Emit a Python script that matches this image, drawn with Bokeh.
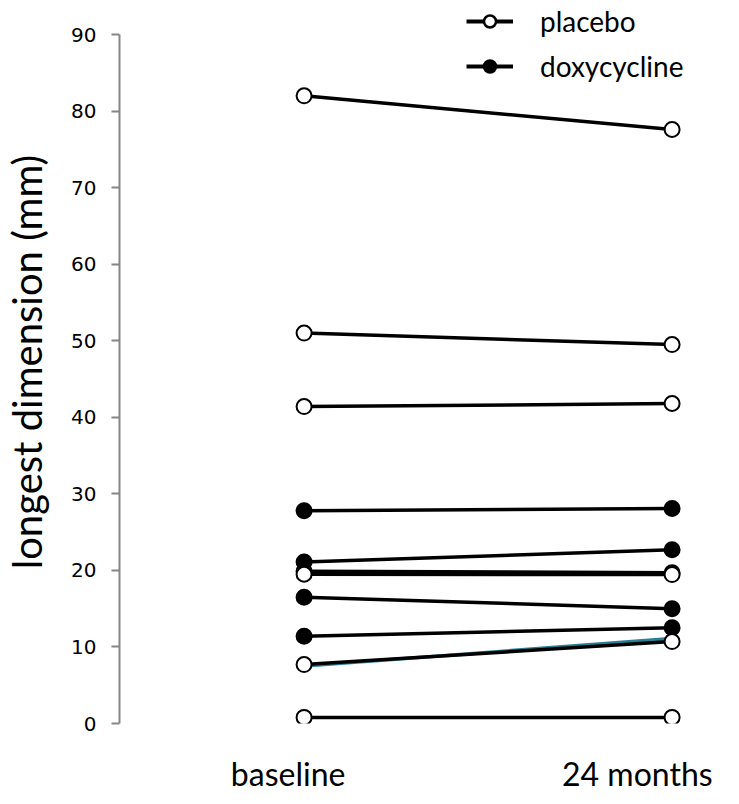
from bokeh.plotting import figure
from bokeh.models import Range1d, FixedTicker, Legend, LegendItem, CustomJSTickFormatter
from bokeh.embed import file_html
from bokeh.resources import INLINE

# ---- data ----
categories = ["baseline", "24 months"]
cat_index = [0, 1]
placebo_baseline = [82.0, 51.0, 41.4, 19.5, 7.7, 0.8]
placebo_24m = [77.6, 49.5, 41.8, 19.45, 10.7, 0.8]
doxy_baseline = [27.8, 21.1, 19.9, 16.5, 11.4]
doxy_24m = [28.1, 22.7, 19.7, 15.0, 12.5]
teal_baseline = [7.5]
teal_24m = [11.1]
y_ticks = [0, 10, 20, 30, 40, 50, 60, 70, 80, 90]
y_axis_bounds = (0, 90)
legend_labels = ["placebo", "doxycycline"]

# ---- layout constants ----
label_tick_pos = [-0.0434, 0.9056]
TXT_FONT = "Lato"
NAN = float("nan")

p = figure(width=723, height=795,
           x_range=Range1d(-0.5016, 1.1397), y_range=Range1d(0, 94.45),
           output_backend="svg", toolbar_location=None,
           min_border_left=110, min_border_right=0,
           min_border_top=0, min_border_bottom=60)
p.grid.visible = False
p.outline_line_color = None

def segs(b, a):
    return [list(cat_index) for _ in b], [[u, v] for u, v in zip(b, a)]

# teal line underneath
xs, ys = segs(teal_baseline, teal_24m)
p.multi_line(xs, ys, line_color="#2a7f93", line_width=3.5)

xs, ys = segs(doxy_baseline, doxy_24m)
p.multi_line(xs, ys, line_color="black", line_width=3.5)
xs, ys = segs(placebo_baseline, placebo_24m)
p.multi_line(xs, ys, line_color="black", line_width=3.5)

dx = [cat_index[0]] * len(doxy_baseline) + [cat_index[1]] * len(doxy_24m)
dy = doxy_baseline + doxy_24m
p.scatter(dx, dy, marker="circle", size=15, fill_color="black", line_color="black", line_width=2)

px = [cat_index[0]] * len(placebo_baseline) + [cat_index[1]] * len(placebo_24m)
py = placebo_baseline + placebo_24m
p.scatter(px, py, marker="circle", size=15, fill_color="white", line_color="black", line_width=2)

# legend-only renderers (NaN data, so nothing drawn in the plot)
lp_line = p.line([NAN, NAN], [NAN, NAN], line_color="black", line_width=4)
lp_pt = p.scatter([NAN], [NAN], marker="circle", size=10, fill_color="white", line_color="black", line_width=2.5)
ld_line = p.line([NAN, NAN], [NAN, NAN], line_color="black", line_width=4)
ld_pt = p.scatter([NAN], [NAN], marker="circle", size=10, fill_color="black", line_color="black", line_width=2.5)

legend = Legend(items=[LegendItem(label=legend_labels[0], renderers=[lp_line, lp_pt]),
                       LegendItem(label=legend_labels[1], renderers=[ld_line, ld_pt])],
                location=(347, 640), orientation="vertical",
                label_text_font=TXT_FONT, label_text_font_size="28px",
                label_text_color="black",
                glyph_width=47, glyph_height=30, label_height=30,
                label_standoff=27, spacing=11, padding=0, margin=0,
                border_line_color=None, background_fill_alpha=0)
p.add_layout(legend, "center")

# y axis
ya = p.yaxis[0]
ya.ticker = FixedTicker(ticks=y_ticks)
ya.bounds = y_axis_bounds
ya.axis_line_color = "#868686"
ya.axis_line_width = 2
ya.major_tick_line_color = "#868686"
ya.major_tick_line_width = 2
ya.major_tick_out = 8
ya.major_tick_in = 0
ya.minor_tick_line_color = None
ya.major_label_text_font = "DejaVu Sans"
ya.major_label_text_font_size = "20px"
ya.major_label_text_color = "black"
ya.major_label_standoff = 15
ya.axis_label = "longest dimension (mm)"
ya.axis_label_text_font = TXT_FONT
ya.axis_label_text_font_size = "40px"
ya.axis_label_text_font_style = "normal"
ya.axis_label_text_color = "black"
ya.axis_label_standoff = 17

# x axis
xa = p.xaxis[0]
xa.ticker = FixedTicker(ticks=label_tick_pos)
xa.formatter = CustomJSTickFormatter(args=dict(labels=categories), code="return labels[index];")
xa.axis_line_color = None
xa.major_tick_line_color = None
xa.minor_tick_line_color = None
xa.major_label_standoff = 24
xa.major_label_text_font = TXT_FONT
xa.major_label_text_font_size = "32px"
xa.major_label_text_color = "black"

open("out.html", "w").write(file_html(p, INLINE))
